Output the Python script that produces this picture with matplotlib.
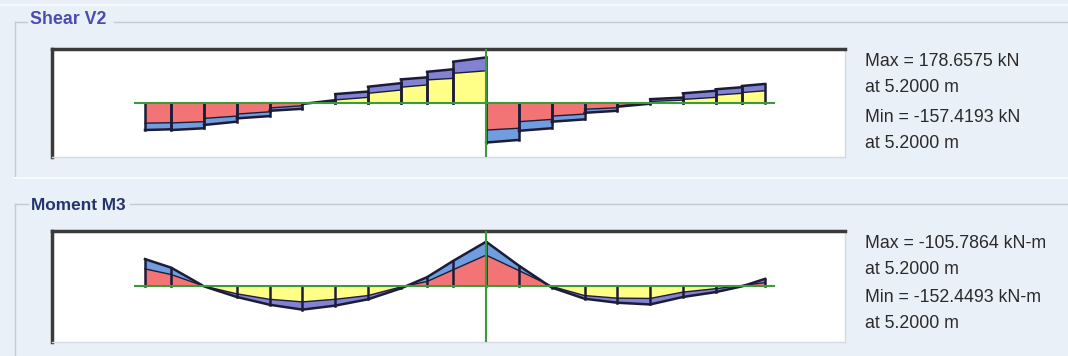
import matplotlib.pyplot as plt

W, H = 1068, 356

# beam stations (m); the middle support sits at 5.2 m
stations = [0.0, 0.4, 0.9, 1.4, 1.9, 2.4, 2.9, 3.4, 3.9, 4.3, 4.7, 5.2,
            5.7, 6.2, 6.7, 7.2, 7.7, 8.2, 8.7, 9.1, 9.45]
support_x = 5.2

# shear V2 (kN), one value at each end of every segment between stations
shear_in_l = [-81, -80, -62, -45, -21, -4, 11, 37, 61, 90, 116,
              -108, -75, -53, -26, -13, 5, 13, 30, 40]
shear_in_r = [-79, -75, -53, -36, -12, 6, 21, 50, 70, 96, 126,
              -101, -66, -45, -20, -1, 10, 21, 37, 47]
shear_out_l = [-108, -108, -88, -62, -32, -5, 34, 63, 92, 122, 162,
               -157.42, -111, -75, -40, -16, 14, 37, 53, 66]
shear_out_r = [-105, -101, -75, -53, -24, 10, 44, 77, 100, 132, 178.66,
               -147, -101, -66, -32, -4, 20, 47, 61, 74]

# moment M3 (kN-m) at each station, sagging positive
moment_in = [-58, -38, 2, 29, 48, 57, 48, 35, 5, -14, -55, -105.79,
             -52, 3, 35, 44, 45, 23, 11, 0, -10]
moment_out = [-92, -62, 3, 40, 67, 84, 70, 48, 10, -29, -86, -152.45,
              -69, 7, 46, 60, 66, 40, 23, 3, -23]

shear_text = ["Max = 178.6575 kN", "at 5.2000 m", "Min = -157.4193 kN", "at 5.2000 m"]
moment_text = ["Max = -105.7864 kN-m", "at 5.2000 m", "Min = -152.4493 kN-m", "at 5.2000 m"]

RED = '#f27474'
YELLOW = '#ffff88'
BLUE = '#6f9de0'
VIOLET = '#8282d2'
DARK = '#1c1c38'
GREEN = '#3c9a3c'
BG = '#eaf0f7'
FRAME = '#c3cad4'
FONT = 'Liberation Sans'

X0_PX, PX_PER_M = 145, 65.6


def px_rect(left, top, right, bottom):
    return [left / W, 1 - bottom / H, (right - left) / W, (bottom - top) / H]


def style_box(ax):
    ax.set_facecolor('white')
    ax.set_xlim((52 - X0_PX) / PX_PER_M, (845 - X0_PX) / PX_PER_M)
    ax.set_xticks([])
    ax.set_yticks([])
    for side in ['top', 'left']:
        ax.spines[side].set_color('#3a3a3a')
        ax.spines[side].set_linewidth(2.5)
    for side in ['bottom', 'right']:
        ax.spines[side].set_color('#d4dae2')
        ax.spines[side].set_linewidth(1)
    ax.plot([stations[0] - 0.15, stations[-1] + 0.14], [0, 0], color=GREEN, lw=1.5, zorder=5)
    ax.axvline(support_x, color=GREEN, lw=1.5, zorder=5)


fig = plt.figure(figsize=(W / 100, H / 100), dpi=100)
fig.patch.set_facecolor(BG)

# background layer in pixel coordinates for the group boxes and labels
bg = fig.add_axes([0, 0, 1, 1])
bg.set_xlim(0, W)
bg.set_ylim(H, 0)
bg.axis('off')
bg.plot([0, W], [5, 5], color='#f6f8fb', lw=1.5)
bg.plot([15, 27], [22, 22], color=FRAME, lw=1)
bg.plot([114, W], [22, 22], color=FRAME, lw=1)
bg.plot([15, 15], [22, 178], color=FRAME, lw=1)
bg.plot([15, W], [178, 178], color='#f8fafc', lw=1.5)
bg.plot([15, 28], [204, 204], color=FRAME, lw=1)
bg.plot([130, W], [204, 204], color=FRAME, lw=1)
bg.plot([15, 15], [204, H], color=FRAME, lw=1)

bg.text(30, 20, "Shear V2", fontsize=12.8, fontweight='bold', color='#4b4bb0',
        family=FONT, va='center', ha='left')
bg.text(31, 206, "Moment M3", fontsize=12.4, fontweight='bold', color='#24346e',
        family=FONT, va='center', ha='left')

for label, y in zip(shear_text, [62, 88, 117, 143]):
    bg.text(865, y, label, fontsize=12.8, color='#2a2a2a', family=FONT, va='center')
for label, y in zip(moment_text, [244, 270, 298, 324]):
    bg.text(865, y, label, fontsize=12.8, color='#2a2a2a', family=FONT, va='center')

# shear diagram
ax1 = fig.add_axes(px_rect(52, 49, 845, 157))
style_box(ax1)
ax1.set_ylim(-214.5, 212)
for i in range(len(stations) - 1):
    x0, x1 = stations[i], stations[i + 1]
    a0, a1 = shear_in_l[i], shear_in_r[i]
    b0, b1 = shear_out_l[i], shear_out_r[i]
    pos = (a0 + a1) > 0
    ax1.fill([x0, x0, x1, x1], [0, a0, a1, 0], color=YELLOW if pos else RED, lw=0)
    ax1.fill([x0, x0, x1, x1], [a0, b0, b1, a1], color=VIOLET if pos else BLUE, lw=0)
    ax1.plot([x0, x1], [a0, a1], color=DARK, lw=1)
    ax1.plot([x0, x1], [b0, b1], color=DARK, lw=1.8)
    ax1.plot([x0, x0], [0, b0], color=DARK, lw=1.8)
    ax1.plot([x1, x1], [0, b1], color=DARK, lw=1.8)

# moment diagram (hogging drawn upwards)
ax2 = fig.add_axes(px_rect(52, 231, 845, 342))
style_box(ax2)
ax2.set_ylim(196.7, -189.75)
m_in = [float(v) for v in moment_in]
m_out = [float(v) for v in moment_out]
ax2.fill_between(stations, 0, m_in, where=[v >= 0 for v in m_in], interpolate=True,
                 color=YELLOW, lw=0)
ax2.fill_between(stations, 0, m_in, where=[v <= 0 for v in m_in], interpolate=True,
                 color=RED, lw=0)
ax2.fill_between(stations, m_in, m_out, where=[v >= 0 for v in m_out], interpolate=True,
                 color=VIOLET, lw=0)
ax2.fill_between(stations, m_in, m_out, where=[v <= 0 for v in m_out], interpolate=True,
                 color=BLUE, lw=0)
ax2.plot(stations, m_in, color=DARK, lw=1)
ax2.plot(stations, m_out, color=DARK, lw=1.8)
for x, v in zip(stations, m_out):
    ax2.plot([x, x], [0, v], color=DARK, lw=1.8)

fig.savefig('out.png', dpi=100, facecolor=fig.get_facecolor())
